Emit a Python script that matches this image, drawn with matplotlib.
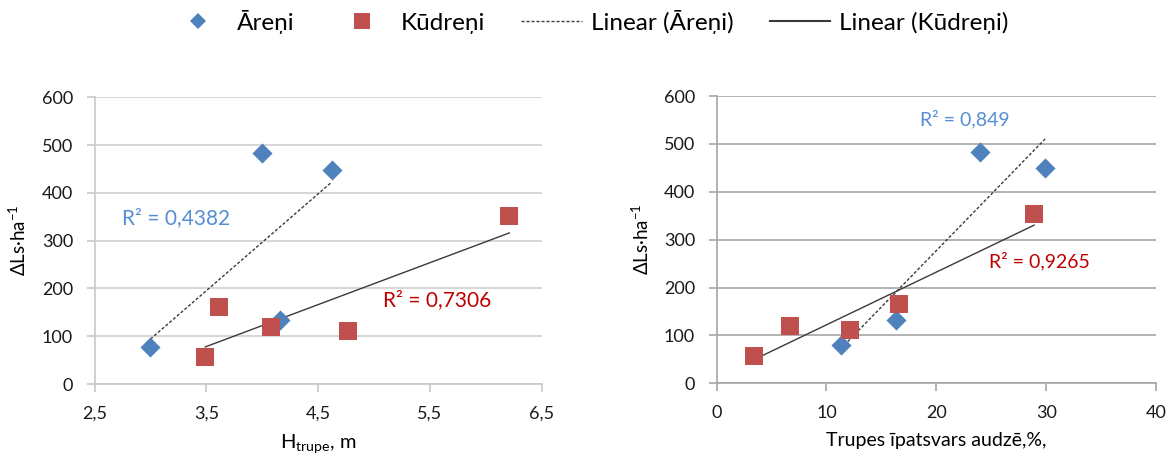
import numpy as np
import matplotlib
matplotlib.use("Agg")
import matplotlib.pyplot as plt
from matplotlib.lines import Line2D

plt.rcParams["font.family"] = ["Lato", "DejaVu Sans"]

# left panel: tree height (m)
h_areni = [3.0, 4.0, 4.62, 4.16]
ls_h_areni = [78, 484, 447, 133]
h_kudreni = [3.49, 3.61, 4.08, 4.77, 6.21]
ls_h_kudreni = [56, 162, 120, 111, 352]

# right panel: share in stand (%)
p_areni = [11.3, 16.3, 24.0, 29.9]
ls_p_areni = [79, 132, 484, 449]
p_kudreni = [3.44, 6.68, 12.1, 16.6, 28.9]
ls_p_kudreni = [57, 120, 111, 165, 353]

left_xticks = [2.5, 3.5, 4.5, 5.5, 6.5]
left_xlabels = ["2,5", "3,5", "4,5", "5,5", "6,5"]
right_xticks = [0, 10, 20, 30, 40]
yticks = [0, 100, 200, 300, 400, 500, 600]

r2_left = ["R² = 0,4382", "R² = 0,7306"]
r2_right = ["R² = 0,849", "R² = 0,9265"]

BLUE = "#4f81bd"
RED = "#c0504d"
TXT_BLUE = "#558ed5"
TXT_RED = "#c00000"
TREND = "#3a3a3a"
DOTTED = (0, (2.2, 1.4))


def trend(ax, x, y, ls):
    k, b = np.polyfit(x, y, 1)
    xs = np.array([min(x), max(x)])
    ax.plot(xs, k * xs + b, color=TREND, lw=1.0, ls=ls, zorder=2)


def style_axes(ax, gridc, spinec):
    ax.set_ylim(0, 600)
    ax.set_yticks(yticks)
    ax.yaxis.grid(True, color=gridc, lw=1.2)
    ax.set_axisbelow(True)
    for s in ["top", "right"]:
        ax.spines[s].set_visible(False)
    for s in ["left", "bottom"]:
        ax.spines[s].set_color(spinec)
        ax.spines[s].set_linewidth(1.2)
    ax.tick_params(axis="both", colors=spinec, labelcolor="#1a1a1a",
                   labelsize=13, length=5.5, width=1.2)
    ax.tick_params(axis="y", pad=10)
    ax.tick_params(axis="x", pad=10)
    ax.set_ylabel("ΔLs·ha$^{\\mathregular{-1}}$", fontsize=13.5, labelpad=9)


fig = plt.figure(figsize=(11.76, 4.61), dpi=100)
ax1 = fig.add_axes([0.0804, 0.167, 0.3803, 0.622])
ax2 = fig.add_axes([0.6094, 0.1685, 0.3736, 0.6232])

# left panel
style_axes(ax1, "#cfcfcf", "#c8c8c8")
ax1.set_xlim(2.5, 6.5)
ax1.set_xticks(left_xticks)
ax1.set_xticklabels(left_xlabels)
ax1.scatter(h_areni, ls_h_areni, marker="D", s=105, color=BLUE, zorder=3, linewidths=0)
ax1.scatter(h_kudreni, ls_h_kudreni, marker="s", s=150, color=RED, zorder=3, linewidths=0)
trend(ax1, h_areni, ls_h_areni, DOTTED)
trend(ax1, h_kudreni, ls_h_kudreni, "-")
ax1.text(2.746, 347, r2_left[0], color=TXT_BLUE, fontsize=15, va="center")
ax1.text(5.077, 176, r2_left[1], color=TXT_RED, fontsize=15, va="center")
ax1.set_xlabel("H$_{\\mathregular{trupe}}$, m", fontsize=14.5, labelpad=8)

# right panel
style_axes(ax2, "#a6a6a6", "#a6a6a6")
ax2.set_xlim(0, 40)
ax2.set_xticks(right_xticks)
ax2.scatter(p_areni, ls_p_areni, marker="D", s=105, color=BLUE, zorder=3, linewidths=0)
ax2.scatter(p_kudreni, ls_p_kudreni, marker="s", s=150, color=RED, zorder=3, linewidths=0)
trend(ax2, p_areni, ls_p_areni, DOTTED)
trend(ax2, p_kudreni, ls_p_kudreni, "-")
ax2.text(18.5, 552, r2_right[0], color=TXT_BLUE, fontsize=14, va="center")
ax2.text(24.8, 256, r2_right[1], color=TXT_RED, fontsize=14, va="center")
ax2.set_xlabel("Trupes īpatsvars audzē,%,", fontsize=14, labelpad=8)

handles = [
    Line2D([], [], ls="none", marker="D", ms=8, color=BLUE, mew=0),
    Line2D([], [], ls="none", marker="s", ms=11, color=RED, mew=0),
    Line2D([], [], ls=DOTTED, color=TREND, lw=1.0),
    Line2D([], [], ls="-", color=TREND, lw=1.5),
]
labels = ["Āreņi", "Kūdreņi", "Linear (Āreņi)", "Linear (Kūdreņi)"]
fig.legend(handles, labels, loc="center", bbox_to_anchor=(0.5, 1 - 22 / 461),
           ncol=4, frameon=False, fontsize=17.5, handlelength=2.5,
           handletextpad=0.35, columnspacing=1.5)

fig.savefig("out.png", dpi=100)
